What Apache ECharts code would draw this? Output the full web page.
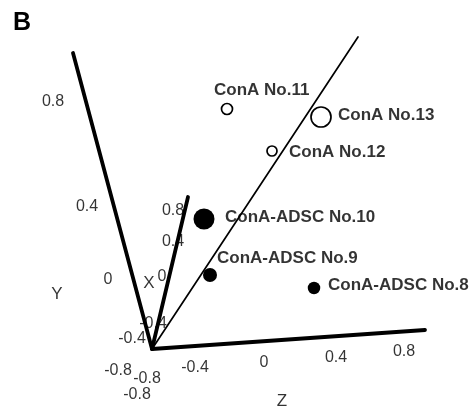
<!DOCTYPE html>
<html>
<head>
<meta charset="utf-8">
<script src="https://cdn.jsdelivr.net/npm/echarts@6/dist/echarts.min.js"></script>
<style>html,body{margin:0;padding:0;background:#fff}#c{width:475px;height:411px}</style>
</head>
<body>
<div id="c"></div>
<script>
// Projected (view-plane) positions
const sampleNames = ['ConA No.11', 'ConA No.13', 'ConA No.12', 'ConA-ADSC No.10', 'ConA-ADSC No.9', 'ConA-ADSC No.8'];
const samplePlaneX = [227, 321, 272, 204, 210, 314];
const samplePlaneY = [109, 117, 151, 219, 275, 288];
const sampleDepthSize = [11, 20, 10, 21, 14, 12.5];
const sampleFilled = [false, false, false, true, true, true];
const labelPlaneX = [214, 338, 289, 225, 217, 328];
const labelPlaneY = [90, 115, 152, 217, 258, 285];

const cornerPlane = [152, 349];
const axisNames = ['X', 'Y', 'Z'];
const axisEndPlane = [[188, 197], [73, 53], [425, 330]];
const refLineEnd = [358, 37];
const axisTitlePlane = [[149, 283], [57, 294], [282, 401]];
const tickLabels = ['-0.8', '-0.4', '0', '0.4', '0.8'];
const xTickPlane = [[147, 379], [153, 324], [162, 277], [173, 242], [173, 211]];
const yTickPlane = [[118, 371], [132, 339], [108, 280], [87, 207], [53, 102]];
const zTickPlane = [[137, 395], [195, 368], [264, 363], [336, 358], [404, 352]];

const FONT = "'Liberation Sans', Arial, Helvetica, sans-serif";

const chart = echarts.init(document.getElementById('c'), null, {renderer: 'canvas'});

function textSeries(points, texts, fontSize, weight) {
  return {
    type: 'scatter', symbolSize: 0, silent: true, z: 5,
    data: points.map((p, i) => ({value: p, name: texts[i]})),
    label: {show: true, position: 'inside', formatter: p => p.name, color: '#000',
      fontFamily: FONT, fontSize: fontSize, fontWeight: weight || 'normal'}
  };
}
function lineSeries(a, b, w) {
  return {type: 'line', data: [a, b], symbol: 'none', silent: true, z: 2,
    lineStyle: {color: '#000', width: w, cap: 'round', opacity: 1}};
}

const series = [];
axisEndPlane.forEach(e => series.push(lineSeries(cornerPlane, e, 3.8)));
series.push(lineSeries(cornerPlane, refLineEnd, 1.7));
series.push(textSeries(xTickPlane, tickLabels, 16));
series.push(textSeries(yTickPlane, tickLabels, 16));
series.push(textSeries(zTickPlane, tickLabels, 16));
series.push(textSeries(axisTitlePlane, axisNames, 17));
series.push({
  type: 'scatter', silent: true, z: 4,
  data: sampleNames.map((n, i) => ({
    value: [samplePlaneX[i], samplePlaneY[i]], name: n,
    symbolSize: sampleDepthSize[i],
    itemStyle: sampleFilled[i] ? {color: '#000', borderWidth: 0, opacity: 1}
      : {color: '#fff', borderColor: '#000', borderWidth: 1.7, opacity: 1}
  })),
  symbol: 'circle'
});
series.push({
  type: 'scatter', symbolSize: 0, silent: true, z: 6,
  data: sampleNames.map((n, i) => ({value: [labelPlaneX[i], labelPlaneY[i]], name: n})),
  label: {show: true, position: 'right', distance: 0, formatter: p => p.name, color: '#000',
    fontFamily: FONT, fontSize: 17, fontWeight: 'bold'}
});

chart.setOption({
  animation: false,
  backgroundColor: '#fff',
  title: {text: 'B', left: 8, top: 6, textStyle: {fontFamily: FONT, fontSize: 25, fontWeight: 'bold', color: '#000'}},
  grid: {left: 0, right: 0, top: 0, bottom: 0},
  xAxis: {type: 'value', min: 0, max: 475, show: false},
  yAxis: {type: 'value', min: 0, max: 411, inverse: true, show: false},
  series: series
});
</script>
</body>
</html>
